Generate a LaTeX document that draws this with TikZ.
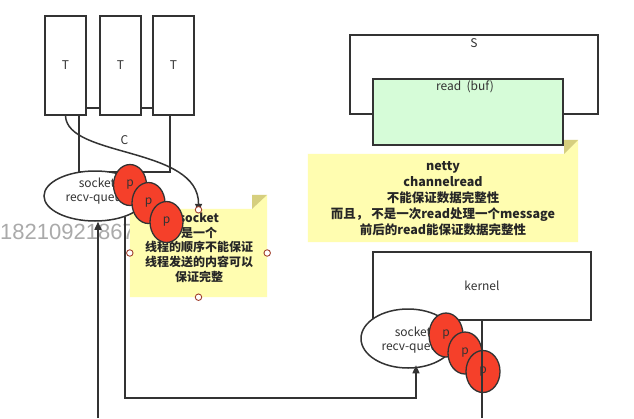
\documentclass[tikz,border=0pt]{standalone}
\usepackage{fontspec}
\setmainfont{Noto Sans CJK SC}
\newfontfamily\wmfont{Liberation Sans}
\usetikzlibrary{arrows.meta,shapes.geometric}
\definecolor{lc}{HTML}{333333}
\definecolor{notefill}{HTML}{FFFDB0}
\definecolor{foldfill}{HTML}{D6CF7E}
\definecolor{greenfill}{HTML}{D6FCD8}
\definecolor{pred}{HTML}{F5402A}
\definecolor{handle}{HTML}{A0402E}
\definecolor{wmgray}{HTML}{AAAAAA}
\begin{document}
\begin{tikzpicture}[x=1pt,y=-1pt,
  box/.style={draw=lc,line width=1.5pt,fill=white,inner sep=0pt,text=lc,font=\fontsize{12}{14}\selectfont},
  lbl/.style={inner sep=0pt,text=lc,font=\fontsize{12}{14}\selectfont},
  sock/.style={ellipse,draw=lc,line width=1.5pt,fill=white,inner sep=0pt},
  pkt/.style={ellipse,draw=lc,line width=1.3pt,fill=pred,inner sep=0pt,minimum width=33pt,minimum height=41pt,text=lc,font=\fontsize{12}{14}\selectfont},
  notebox/.style={inner sep=0pt},
  notetext/.style={inner sep=0pt,align=center,text=black!85,font=\bfseries\fontsize{12}{14.7}\selectfont},
  hnd/.style={circle,draw=handle,line width=0.9pt,fill=white,inner sep=0pt,minimum size=6.5pt},
  conn/.style={draw=lc,line width=1.5pt},
  tip/.style={-{Triangle[length=8pt,width=7pt]}}]
\useasboundingbox (0,0) rectangle (634,418);
\fill[white] (0,0) rectangle (634,418);

% watermark
\node[anchor=west,inner sep=0pt,text=wmgray,font=\wmfont\fontsize{22}{24}\selectfont] (wm) at (0,232) {18210921867};

% C box and threads
\node[box,minimum width=91pt,minimum height=64pt] (C) at (124.5,140) {C};
\node[box,minimum width=41pt,minimum height=99pt] (T1) at (65.5,65.5) {T};
\node[box,minimum width=41pt,minimum height=99pt] (T2) at (120.5,65.5) {T};
\node[box,minimum width=41pt,minimum height=99pt] (T3) at (173.5,65.5) {T};

% note 1
\node[notebox,minimum width=137pt,minimum height=88pt] (n1) at (198.5,253) {};
\fill[notefill] (n1.south west) -- (n1.north west) -- ([xshift=-15pt]n1.north east) -- ([yshift=14pt]n1.north east) -- (n1.south east) -- cycle;
\fill[foldfill] ([xshift=-15pt]n1.north east) -- ([yshift=14pt]n1.north east) -- ([xshift=-15pt,yshift=14pt]n1.north east) -- cycle;
\node[notetext] (t1) at (199,247.5) {socket\\是一个\\线程的顺序不能保证\\线程发送的内容可以\\保证完整};

% curve from thread to note
\draw[conn,tip] (T1.south) .. controls (67,158) and (199,146) .. ([yshift=-3pt]n1.north);

% handles
\node[hnd] (h1) at ([yshift=-1pt]n1.north) {};
\node[hnd] (h2) at (n1.west) {};
\node[hnd] (h3) at (n1.east) {};
\node[hnd] (h4) at (n1.south) {};

% socket 1
\node[sock,minimum width=102pt,minimum height=50pt] (e1) at (95,196) {};
\node[lbl,align=center,font=\fontsize{12}{14}\selectfont] (e1t) at (97,191) {socket\\recv-queue};
\node[pkt] (p1) at (130,185) {p};
\node[pkt] (p2) at (148.5,203) {p};
\node[pkt] (p3) at (166.5,222) {p};

% S and read(buf)
\node[box,minimum width=248pt,minimum height=79pt] (S) at (474,74.5) {};
\node[lbl] (Sl) at (474,43) {S};
\node[box,fill=greenfill,minimum width=190pt,minimum height=66pt] (rb) at (468,112) {};
\node[lbl] (rbl) at (465,87) {read\ \ (buf)};

% note 2
\node[notebox,minimum width=270pt,minimum height=88pt] (n2) at (443,198) {};
\fill[notefill] (n2.south west) -- (n2.north west) -- ([xshift=-14pt]n2.north east) -- ([yshift=14pt]n2.north east) -- (n2.south east) -- cycle;
\fill[foldfill] ([xshift=-14pt]n2.north east) -- ([yshift=14pt]n2.north east) -- ([xshift=-14pt,yshift=14pt]n2.north east) -- cycle;
\node[notetext,font=\bfseries\fontsize{12.5}{16}\selectfont] (t2) at (443,199) {netty\\channelread\\不能保证数据完整性\\而且， 不是一次read处理一个message\\前后的read能保证数据完整性};

% kernel
\node[box,minimum width=218pt,minimum height=68pt] (K) at (482,286) {kernel};

% socket 2
\node[sock,minimum width=94pt,minimum height=59pt] (e2) at (408,338.5) {};
\node[lbl,align=center] (e2t) at (413,340) {socket\\recv-queue};
\node[pkt,minimum width=34pt,minimum height=44pt] (q1) at (446,335) {p};
\node[pkt,minimum width=34pt,minimum height=42pt] (q2) at (465,353) {p};
\node[pkt,minimum width=34pt,minimum height=42pt] (q3) at (483,371.5) {p};

% connectors
\coordinate (b1) at (98,418);
\coordinate (low) at (0,398);
\coordinate (b2) at (482,418);
\draw[conn,tip] (b1) -- (b1 |- e1.south);
\draw[conn,tip] (e1.-35) |- (low -| e2.-75) -- ([yshift=3pt]e2.-75);
\draw[conn] (K.south) -- (b2);
\end{tikzpicture}
\end{document}
